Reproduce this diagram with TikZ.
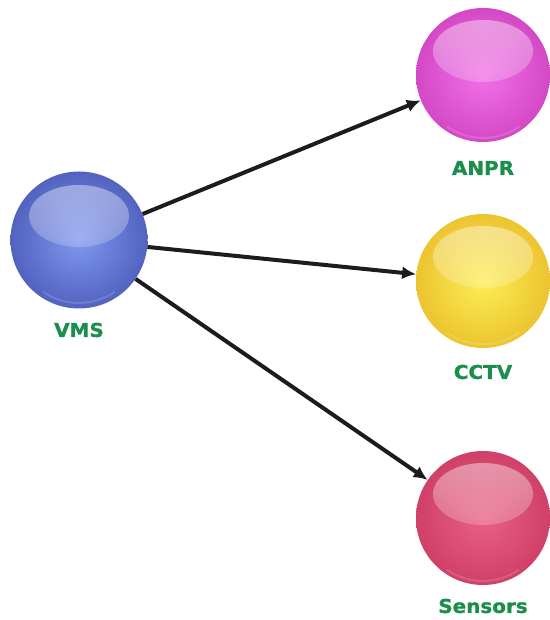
\documentclass[tikz,border=0pt]{standalone}
\usepackage{fontspec}
\usetikzlibrary{arrows.meta,fadings,calc}
\newfontfamily\tagfont{DejaVu Sans}[BoldFeatures={FakeBold=1.2}]

\definecolor{vmsEdge}{RGB}{82,98,192}
\definecolor{vmsCore}{RGB}{128,152,238}
\definecolor{anprEdge}{RGB}{212,72,198}
\definecolor{anprCore}{RGB}{242,112,232}
\definecolor{cctvEdge}{RGB}{236,196,48}
\definecolor{cctvCore}{RGB}{252,238,86}
\definecolor{sensEdge}{RGB}{208,64,104}
\definecolor{sensCore}{RGB}{232,96,134}
\definecolor{tagGreen}{RGB}{26,142,76}
\definecolor{linkGray}{RGB}{28,28,28}

\tikzfading[name=glossfade, top color=transparent!30, bottom color=transparent!100]

\tikzset{
  orb/.style n args={2}{circle, minimum size=134pt, inner sep=0pt,
    inner color=#2, outer color=#1,
    path picture={
      \fill[white, path fading=glossfade, fill opacity=0.65]
        ($(path picture bounding box.center)+(0,24)$) ellipse [x radius=50, y radius=31];
      \draw[white, opacity=0.15, line width=2pt]
        ($(path picture bounding box.center)$) ++(-125:63) arc[start angle=-125, end angle=-55, radius=63];
    }},
  tag/.style={font=\tagfont\bfseries\fontsize{19}{19}\selectfont, text=tagGreen, inner sep=0pt},
  link/.style={draw=linkGray, line width=4pt, -{Latex[length=14pt,width=13pt]}}
}

\begin{document}
\begin{tikzpicture}[x=1pt,y=1pt]
  \useasboundingbox (0,0) rectangle (549,620);

  % the four spheres
  \node[orb={vmsEdge}{vmsCore}, minimum size=137pt] (vms) at (79,380) {};
  \node[orb={anprEdge}{anprCore}] (anpr) at (483,545) {};
  \node[orb={cctvEdge}{cctvCore}] (cctv) at (483,339) {};
  \node[orb={sensEdge}{sensCore}] (sens) at (483,102) {};

  % captions under the spheres
  \node[tag] (vmsTag) at (79,290) {\scalebox{1.05}[1]{VMS}};
  \node[tag] (anprTag) at (483,452) {\scalebox{1.05}[1]{ANPR}};
  \node[tag] (cctvTag) at (483,248) {\scalebox{1.05}[1]{CCTV}};
  \node[tag] (sensTag) at (483,14) {\scalebox{1.05}[1]{Sensors}};

  % links from the management system
  \draw[link] (vms) -- (anpr);
  \draw[link] (vms) -- (cctv);
  \draw[link] (vms) -- (sens);
\end{tikzpicture}
\end{document}
